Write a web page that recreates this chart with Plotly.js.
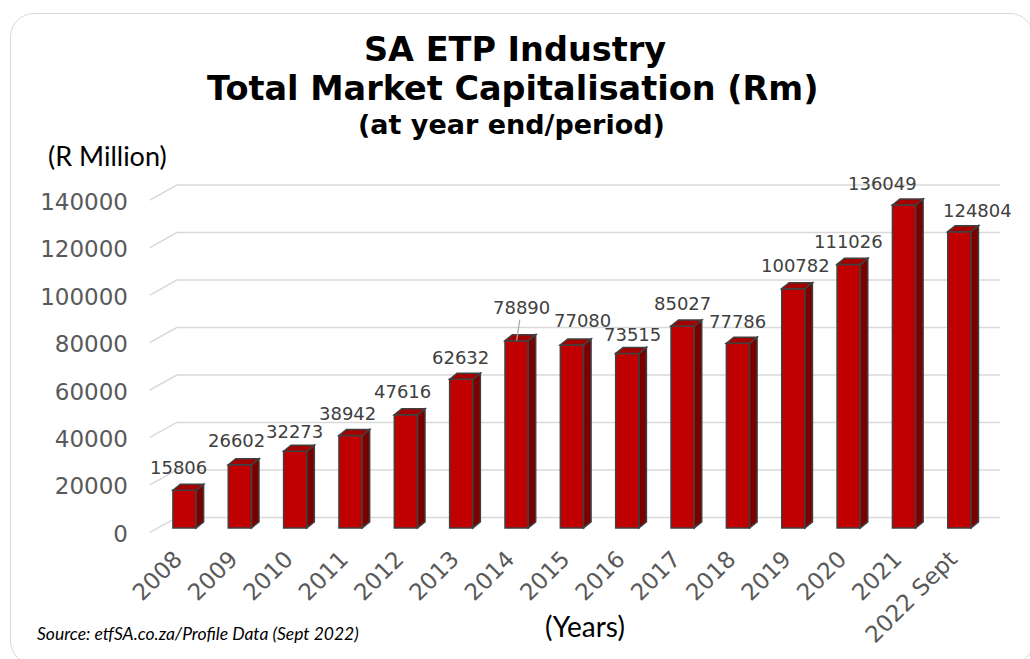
<!DOCTYPE html>
<html><head><meta charset="utf-8">
<script src="https://cdn.plot.ly/plotly-3.0.1.min.js"></script>
<style>
html,body{margin:0;padding:0;background:#fff;overflow:hidden}
#frame{position:absolute;left:10px;top:13px;width:1024px;height:652px;border:1.5px solid #d9d9d9;border-radius:24px;box-sizing:border-box}
#chart{position:absolute;left:0;top:0;width:1030px;height:659px}
</style></head><body>
<div id="frame"></div><div id="chart"></div>
<script>
// ---- data ----
const years = ['2008','2009','2010','2011','2012','2013','2014','2015','2016','2017','2018','2019','2020','2021','2022 Sept'];
const marketCap = [15806, 26602, 32273, 38942, 47616, 62632, 78890, 77080, 73515, 85027, 77786, 100782, 111026, 136049, 124804];
const yTickValues = [0, 20000, 40000, 60000, 80000, 100000, 120000, 140000];
const yTickLabels = ['0','20000','40000','60000','80000','100000','120000','140000'];

// ---- label placement (pixel offsets from bar top centre) ----
const labelDX = [-6, -3, -1, -3, -3, -1, 5, 11, 5, 0, -1, 2, 0, -22, 18];
const labelDY = [23, 24, 20, 22, 23, 22, 33, 24, 19, 23, 22, 23, 23, 21, 21];

// ---- geometry ----
const W = 1030, H = 659;
const M = {l:148, r:28, t:179, b:124};
const PW = W - M.l - M.r, PH = H - M.t - M.b;
const px2pxX = px => (px - M.l) / PW;
const px2pyY = py => (H - M.b - py) / PH;

const BAR_W = 0.42, HW = BAR_W / 2;
const DX = 0.135, DY = 2530;     // 3-D depth in axis units
const tickFont = {family:'DejaVu Sans', size:23, color:'#595959'};

const shapes = [];
// back-wall gridlines with a diagonal lead-in
yTickValues.forEach(t => {
  shapes.push({type:'path', layer:'below', xref:'x', yref:'y',
    xsizemode:'pixel', ysizemode:'pixel', xanchor:-0.5, yanchor:t,
    path:'M -7,-4.5 L 20,10.5 L 843,10.5',
    line:{color:'#d9d9d9', width:1.5}});
});
// side and top faces of each bar
marketCap.forEach((v, i) => {
  shapes.push({type:'path', xref:'x', yref:'y',
    path:`M ${i+HW},0 L ${i+HW+DX},${DY} L ${i+HW+DX},${v+DY} L ${i+HW},${v} Z`,
    fillcolor:'#7a0000', line:{color:'#404040', width:1.5}});
  shapes.push({type:'path', xref:'x', yref:'y',
    path:`M ${i-HW},${v} L ${i-HW+DX},${v+DY} L ${i+HW+DX},${v+DY} L ${i+HW},${v} Z`,
    fillcolor:'#a30000', line:{color:'#404040', width:1.5}});
});

const labelFont = {family:'DejaVu Sans', size:18, color:'#404040'};
const annotations = marketCap.map((v, i) => {
  if (i === 6) {
    return {x:i, y:v, xref:'x', yref:'y', text:String(v), showarrow:true, arrowhead:0,
      arrowwidth:1.2, arrowcolor:'#a6a6a6', ax:labelDX[i], ay:-labelDY[i], font:labelFont};
  }
  return {x:i, y:v, xref:'x', yref:'y', text:String(v), showarrow:false,
    xanchor:'center', yanchor:'middle', xshift:labelDX[i], yshift:labelDY[i], font:labelFont};
});
annotations.push(
  {xref:'paper', yref:'paper', x:px2pxX(513), y:px2pyY(88), xanchor:'center', yanchor:'middle', showarrow:false,
   text:'<b>Total Market Capitalisation (Rm)</b>', font:{family:'DejaVu Sans', size:33.5, color:'#000'}},
  {xref:'paper', yref:'paper', x:px2pxX(511), y:px2pyY(125), xanchor:'center', yanchor:'middle', showarrow:false,
   text:'<b>(at year end/period)</b>', font:{family:'DejaVu Sans', size:27, color:'#000'}},
  {xref:'paper', yref:'paper', x:px2pxX(46), y:px2pyY(155), xanchor:'left', yanchor:'middle', showarrow:false,
   text:'(R Million)', font:{family:'Lato', size:27, color:'#000'}},
  {xref:'paper', yref:'paper', x:px2pxX(585), y:px2pyY(626), xanchor:'center', yanchor:'middle', showarrow:false,
   text:'(Years)', font:{family:'Lato', size:28, color:'#000'}},
  {xref:'paper', yref:'paper', x:px2pxX(35), y:px2pyY(633), xanchor:'left', yanchor:'middle', showarrow:false,
   text:'<i>Source: etfSA.co.za/Profile Data (Sept 2022)</i>', font:{family:'Lato', size:17.5, color:'#000'}}
);

const trace = {type:'bar', x:years, y:marketCap, width:BAR_W,
  marker:{color:'#c00000', line:{color:'#404040', width:1.5}}, hoverinfo:'x+y'};

const layout = {
  width:W, height:H, margin:M,
  paper_bgcolor:'rgba(0,0,0,0)', plot_bgcolor:'rgba(0,0,0,0)',
  title:{text:'<b>SA ETP Industry</b>', font:{family:'DejaVu Sans', size:33.5, color:'#000'},
    x:0.5, xref:'container', y:1 - 49/H, yref:'container', yanchor:'middle'},
  showlegend:false,
  xaxis:{type:'category', range:[-0.66, 14.77], showgrid:false, zeroline:false, showline:false,
    ticks:'', tickangle:-45, tickfont:{family:'DejaVu Sans', size:23, color:'#595959'},
    ticklabelstandoff:5, ticklabelshift:-9},
  yaxis:{range:[-3000, 147000], tickvals:yTickValues, ticktext:yTickLabels, showgrid:false, zeroline:false,
    showline:false, ticks:'', tickfont:tickFont, ticklabelshift:6, ticklabelstandoff:19},
  shapes:shapes, annotations:annotations
};
Plotly.newPlot('chart', [trace], layout, {displayModeBar:false, staticPlot:true});
</script></body></html>
